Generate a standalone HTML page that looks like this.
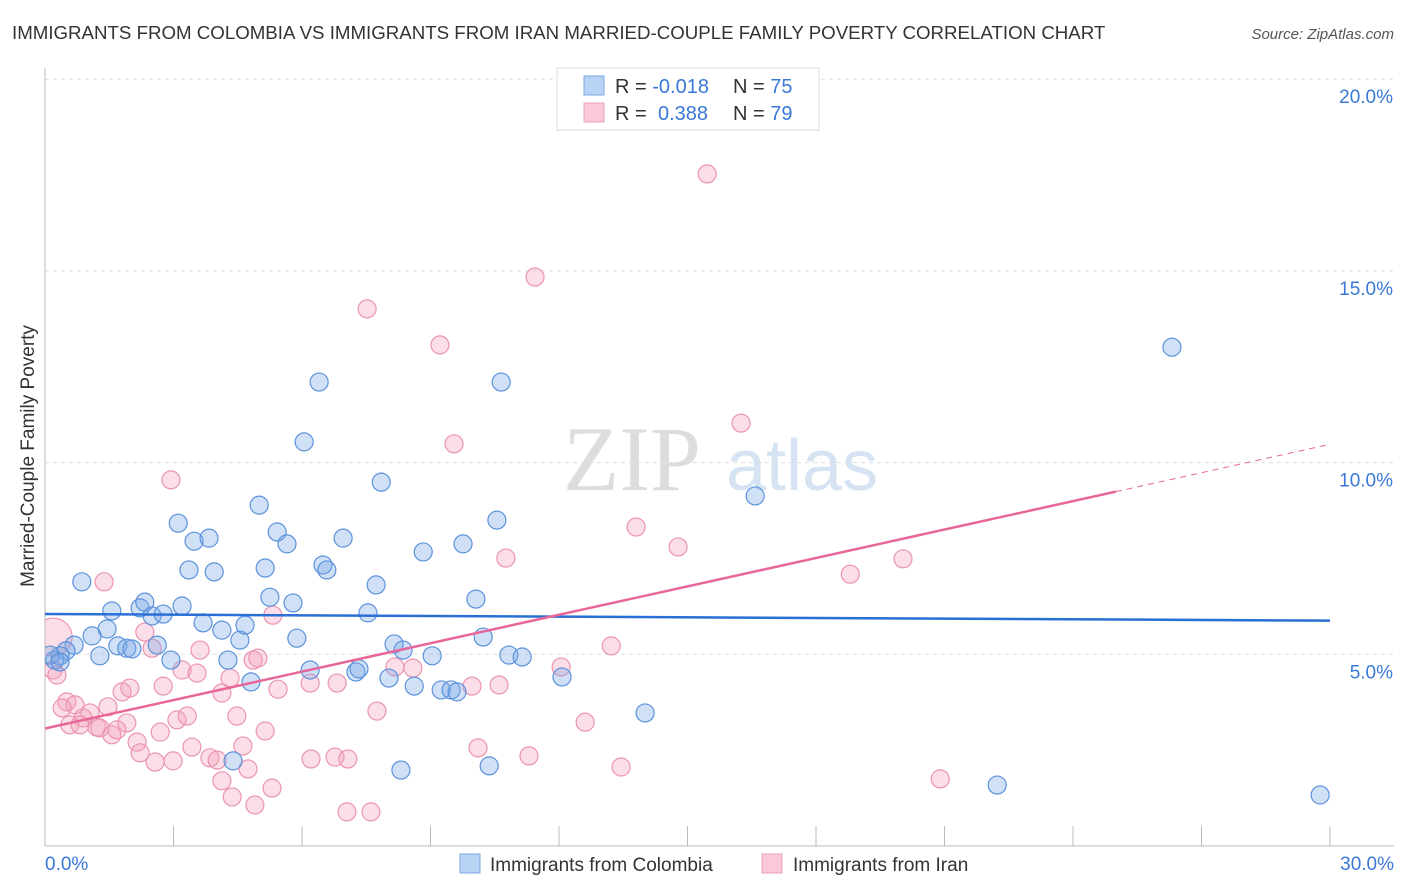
<!DOCTYPE html>
<html><head><meta charset="utf-8"><style>
body{margin:0;background:#fff;font-family:"Liberation Sans",sans-serif;}
svg{display:block}
</style></head><body>
<svg id="chart" width="1406" height="892" xmlns="http://www.w3.org/2000/svg" font-family="Liberation Sans, sans-serif">
<defs><clipPath id="plotclip"><rect x="45" y="60" width="1360" height="786"/></clipPath></defs>
<text x="12" y="39" font-size="18.7" fill="#333">IMMIGRANTS FROM COLOMBIA VS IMMIGRANTS FROM IRAN MARRIED-COUPLE FAMILY POVERTY CORRELATION CHART</text>
<text x="1394" y="39" font-size="15" fill="#555" font-style="italic" text-anchor="end">Source: ZipAtlas.com</text>
<text transform="translate(34,456) rotate(-90)" font-size="19" fill="#333" text-anchor="middle">Married-Couple Family Poverty</text>
<g>
<text x="632" y="490" font-size="92" fill="#ddd" font-family="Liberation Serif, serif" text-anchor="middle">ZIP</text>
<text x="802" y="490" font-size="72" fill="#d5e3f3" text-anchor="middle">atlas</text>
</g>
<g id="grid"></g><g id="axes"></g><g id="marks" clip-path="url(#plotclip)"></g><g id="lines"></g>
<g>
<rect x="557" y="68" width="262" height="62" fill="#fff" stroke="#ddd"/>
<rect x="584" y="76" width="20" height="19" fill="#b9d3f5" stroke="#7aa8e4"/>
<rect x="584" y="103" width="20" height="19" fill="#f9c9d7" stroke="#eca0b8"/>
<text x="615" y="93" font-size="20" fill="#333">R = <tspan fill="#3a78d8">-0.018</tspan><tspan x="733">N = </tspan><tspan fill="#3a78d8">75</tspan></text>
<text x="615" y="120" font-size="20" fill="#333">R = <tspan x="658" fill="#3a78d8">0.388</tspan><tspan x="733">N = </tspan><tspan fill="#3a78d8">79</tspan></text>
</g>
<g>
<rect x="460" y="854" width="20" height="19" fill="#b9d3f5" stroke="#7aa8e4"/>
<text x="490" y="871" font-size="19" fill="#333">Immigrants from Colombia</text>
<rect x="762" y="854" width="20" height="19" fill="#f9c9d7" stroke="#eca0b8"/>
<text x="793" y="871" font-size="19" fill="#333">Immigrants from Iran</text>
</g>
</svg>
<script>
const xTicks=[0,3,6,9,12,15,18,21,24,27,30];
const yTicks=[5,10,15,20];
const yTickLabels=["5.0%","10.0%","15.0%","20.0%"];
const xTickLabels=["0.0%","30.0%"];
const colombiaX=[0.86,1.56,1.45,1.10,0.68,0.49,0.35,0.23,0.12,1.28,1.70,1.91,2.03,2.22,2.33,2.50,2.76,2.62,2.94,3.11,3.20,3.48,3.36,3.69,3.83,3.95,4.13,4.27,4.55,4.67,4.81,4.39,5.00,5.14,5.25,5.42,5.65,5.79,5.88,6.05,6.19,6.40,6.49,6.58,6.96,7.26,7.33,7.85,7.73,7.54,8.03,8.15,8.31,8.36,8.62,8.83,9.04,9.25,9.48,9.62,9.76,10.06,10.23,10.37,10.55,10.65,10.83,11.14,12.07,14.01,16.58,22.23,26.31,29.77,0.35];
const colombiaY=[6.89,6.13,5.66,5.48,5.24,5.09,4.96,4.85,4.98,4.96,5.22,5.16,5.14,6.21,6.36,6.00,6.05,5.24,4.85,8.42,6.26,7.95,7.20,5.82,8.03,7.15,5.63,4.85,5.37,5.76,4.28,2.22,8.89,7.25,6.49,8.19,7.88,6.34,5.42,10.54,4.59,12.10,7.33,7.20,8.03,4.54,4.62,9.49,6.81,6.08,4.38,5.27,1.98,5.11,4.17,7.67,4.96,4.07,4.07,4.02,7.88,6.44,5.45,2.09,8.50,12.10,4.98,4.93,4.41,3.47,9.13,1.59,13.01,1.33,4.80];
const iranX=[1.38,0.19,0.19,0.28,2.33,2.50,3.62,5.32,3.20,3.55,4.32,4.86,4.97,2.76,1.80,1.98,0.51,0.70,0.40,1.47,1.05,0.89,0.58,0.82,1.21,1.28,1.91,1.68,1.56,2.69,3.08,3.32,4.13,5.44,4.48,5.14,4.62,3.43,2.15,2.22,2.57,2.99,3.85,4.02,4.74,4.13,5.30,4.37,4.90,6.21,6.77,6.82,7.05,7.07,2.94,7.52,9.22,9.55,11.44,15.46,16.25,13.80,14.78,10.76,18.80,20.03,13.22,12.05,10.60,9.97,8.59,8.17,7.75,10.11,11.30,12.61,13.45,20.90,7.61,6.19];
const iranY=[6.89,5.45,4.59,4.46,5.58,5.16,5.11,6.02,4.59,4.51,4.38,4.85,4.90,4.17,4.02,4.12,3.76,3.68,3.60,3.63,3.47,3.34,3.16,3.16,3.10,3.08,3.21,3.03,2.90,2.97,3.29,3.39,3.99,4.09,3.39,3.00,2.61,2.58,2.71,2.43,2.19,2.22,2.30,2.24,2.01,1.70,1.51,1.28,1.07,2.27,2.32,4.25,0.89,2.27,9.55,14.01,13.07,10.49,14.84,17.53,11.03,8.32,7.80,7.51,7.09,7.49,5.22,4.67,4.20,4.17,4.64,4.67,3.52,2.56,2.35,3.23,2.06,1.75,0.89,4.25];
const NS="http://www.w3.org/2000/svg";
const X0=45,X1=1330,Y0=846,YPX=38.34;
function sx(v){return X0+(v/30)*(X1-X0);}
function sy(v){return Y0-v*YPX;}
function mk(t,a,p){const e=document.createElementNS(NS,t);for(const k in a)e.setAttribute(k,a[k]);p.appendChild(e);return e;}
const grid=document.getElementById('grid'),axes=document.getElementById('axes'),marks=document.getElementById('marks'),lines=document.getElementById('lines');
yTicks.forEach((t,i)=>{
 const l=mk('line',{x1:X0,x2:1394,y1:sy(t),y2:sy(t),stroke:'#ddd','stroke-dasharray':'4,4'},grid);
 
 
 const tx=mk('text',{x:1393,y:sy(t)+24,'font-size':19,fill:'#3a78d8','text-anchor':'end'},axes);
 tx.textContent=yTickLabels[i];
 
 
});
const ax=mk('line',{x1:X0,x2:X0,y1:68,y2:Y0,stroke:'#bbb'},axes);


const bx=mk('line',{x1:X0,x2:1394,y1:Y0,y2:Y0,stroke:'#bbb'},axes);


xTicks.forEach(t=>{
 const l=mk('line',{x1:sx(t),x2:sx(t),y1:Y0-20,y2:Y0,stroke:'#bbb'},axes);
 
 
});
[[0,'start',45],[30,'end',1394]].forEach((d,i)=>{
 const tx=mk('text',{x:d[2],y:870,'font-size':19,fill:'#3a78d8','text-anchor':d[1]},axes);
 tx.textContent=xTickLabels[i];
 
 
});
function dots(xs,ys,fill,stroke,name){
 xs.forEach((x,i)=>{
  const c=mk('circle',{cx:sx(x),cy:sy(ys[i]),r:(name==='iran-point'&&i===1)?19:9,fill:fill,stroke:stroke,'stroke-width':1.2},marks);
  
  
 });
}
dots(iranX,iranY,'rgba(244,160,185,0.35)','#eb94b0','iran-point');
dots(colombiaX,colombiaY,'rgba(120,165,230,0.35)','#5b92dc','colombia-point');
function fit(xs,ys){const n=xs.length;let mx=0,my=0;for(let i=0;i<n;i++){mx+=xs[i];my+=ys[i];}mx/=n;my/=n;let sxy=0,sxx=0;for(let i=0;i<n;i++){sxy+=(xs[i]-mx)*(ys[i]-my);sxx+=(xs[i]-mx)**2;}const b=sxy/sxx;return [my-b*mx,b];}
const fb=fit(colombiaX,colombiaY),fp=fit(iranX,iranY);
const bl=mk('line',{x1:sx(0),y1:sy(fb[0]),x2:sx(30),y2:sy(fb[0]+fb[1]*30),stroke:'#2a6fd6','stroke-width':2.5},lines);


const pl=mk('line',{x1:sx(0),y1:sy(fp[0]),x2:sx(25),y2:sy(fp[0]+fp[1]*25),stroke:'#e8679a','stroke-width':2.5},lines);


const pd=mk('line',{x1:sx(25),y1:sy(fp[0]+fp[1]*25),x2:sx(30),y2:sy(fp[0]+fp[1]*30),stroke:'#e8679a','stroke-width':1,'stroke-dasharray':'6,5'},lines);


</script>
</body></html>
